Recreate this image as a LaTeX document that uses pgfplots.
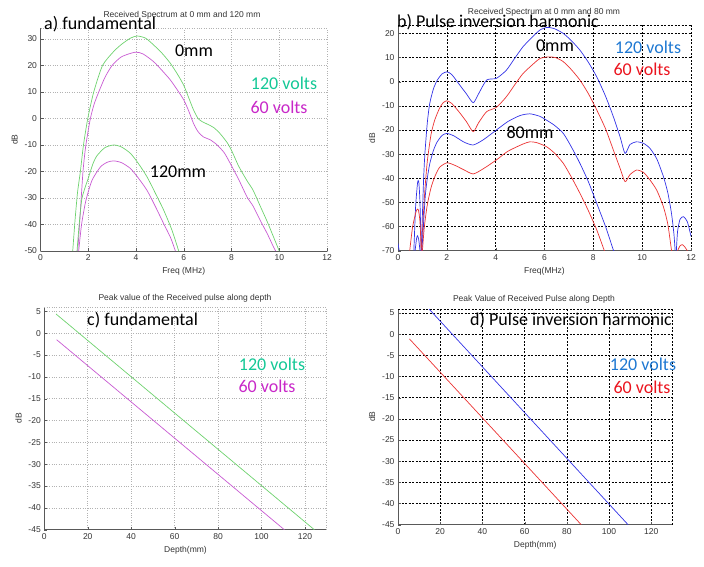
\documentclass[border=0pt]{standalone}
\usepackage{fontspec}
\setmainfont{Liberation Sans}
\newfontfamily\calfont{Carlito}
\usepackage{pgfplots}
\pgfplotsset{compat=1.18}

\definecolor{lgreen}{RGB}{110,210,110}
\definecolor{lmag}{RGB}{200,90,210}
\definecolor{pblue}{RGB}{50,50,230}
\definecolor{pred}{RGB}{235,50,50}
\definecolor{tgreen}{RGB}{20,200,150}
\definecolor{tmag}{RGB}{200,40,200}
\definecolor{tblue}{RGB}{30,120,210}
\definecolor{tred}{RGB}{235,20,30}

\pgfplotsset{
 mystyle/.style={
   scale only axis, anchor=south west,
   axis x line=bottom, axis y line=left,
   axis line style={-, gray!70!black, line width=0.6pt},
   tick align=inside, major tick length=3pt,
   tick style={gray!70!black},
   ticklabel style={font=\fontsize{8.5}{9}\selectfont, text=black!80},
   /pgf/number format/assume math mode=true,
   label style={font=\fontsize{8.5}{9}\selectfont, text=black!80},
   xmajorgrids, ymajorgrids,
   every axis plot/.append style={line width=0.7pt, no marks},
   extra tick style={grid=major, major tick length=0pt},
 },
 dotgrid/.style={grid style={gray!60, dotted, line width=0.5pt}},
 dashgrid/.style={grid style={black, dash pattern=on 2pt off 1.5pt, line width=0.5pt}},
}

\begin{document}
\begin{tikzpicture}[x=1pt,y=1pt]
\path[use as bounding box] (0,0) rectangle (704,566);

% ---------- a ----------
\begin{axis}[mystyle, dotgrid, at={(40.5pt,315pt)}, width=286.5pt, height=222.7pt,
  xmin=0, xmax=12, ymin=-50, ymax=34, xtick={0,2,...,12}, ytick={-50,-40,...,30},
  extra y ticks={34}, extra y tick labels={},
  xlabel={Freq (MHz)}, ylabel={dB}]
\addplot[lgreen, smooth, tension=0.4] coordinates {(1.35,-50)(1.45,-38)(1.55,-28)(1.67,-20)(1.8,-10)(1.98,0)(2.23,10)(2.6,20)(3.07,25.3)(3.4,28)(3.77,30.3)(4.05,31.1)(4.4,30.3)(4.74,27.7)(5.1,24.5)(5.44,20.8)(5.75,16.5)(6.0,12.5)(6.2,8)(6.41,3.2)(6.6,0)(6.77,-1.2)(7.0,-2.2)(7.25,-3.4)(7.5,-5.5)(7.81,-9)(8.0,-12)(8.3,-18)(8.65,-23.5)(8.9,-27)(9.2,-33)(9.5,-39)(9.76,-44.7)(10.0,-50)};
\addplot[lmag, smooth, tension=0.4] coordinates {(1.56,-50)(1.65,-38)(1.78,-20)(1.9,-10)(2.09,0)(2.25,5.5)(2.44,10)(2.7,15.5)(3.0,20)(3.4,23.3)(3.97,25)(4.3,24.3)(4.74,21.4)(5.1,18)(5.44,14.5)(5.75,10.5)(6.0,7)(6.2,3)(6.41,-1.9)(6.6,-5)(6.83,-7)(7.1,-8)(7.4,-10)(7.7,-13)(7.95,-17)(8.3,-23)(8.65,-29.6)(8.9,-33)(9.2,-38.4)(9.5,-43.5)(9.76,-48.5)(9.85,-50)};
\addplot[lgreen, smooth, tension=0.4] coordinates {(1.53,-50)(1.62,-40)(1.74,-30)(2.02,-22)(2.2,-17)(2.37,-14)(2.7,-11)(3.07,-10)(3.4,-10.8)(3.77,-13.2)(4.1,-17)(4.46,-22)(4.8,-28)(5.16,-34.6)(5.5,-42)(5.79,-50)};
\addplot[lmag, smooth, tension=0.4] coordinates {(1.6,-50)(1.72,-40)(1.9,-31)(2.16,-23.3)(2.51,-18.3)(2.8,-16.5)(3.07,-16)(3.4,-16.7)(3.77,-18.9)(4.1,-22.5)(4.46,-27.1)(4.8,-33)(5.16,-39.7)(5.45,-45)(5.65,-50)};
\end{axis}

% ---------- b ----------
\begin{axis}[mystyle, dashgrid, at={(398pt,315.3pt)}, width=293pt, height=225.7pt,
  xmin=0, xmax=12, ymin=-70, ymax=23.5, xtick={0,2,...,12}, ytick={-70,-60,...,20},
  extra y ticks={23.5}, extra y tick labels={},
  xlabel={Freq(MHz)}, ylabel={dB}]
\addplot[pblue, smooth, tension=0.4] coordinates {(0.95,-70)(1.0,-55)(1.05,-40)(1.1,-30)(1.2,-17)(1.3,-9)(1.45,-3)(1.6,0.5)(1.8,3.2)(2.0,4.1)(2.2,3)(2.5,-1)(2.8,-5)(3.08,-8.7)(3.3,-5)(3.63,0.7)(4.03,1.4)(4.44,4.8)(4.8,10)(5.12,14.5)(5.5,18.5)(5.81,21.4)(6.1,22.5)(6.4,22)(6.77,20)(7.1,17)(7.45,13.1)(7.8,8)(8.14,2)(8.5,-6)(8.82,-14.5)(9.1,-23)(9.3,-29.7)(9.5,-26)(9.77,-24.9)(10.05,-25.5)(10.32,-27.6)(10.6,-32)(10.87,-39.3)(11.05,-46)(11.2,-54.5)(11.3,-63)(11.35,-70)};
\addplot[pblue, smooth, tension=0.4] coordinates {(11.4,-70)(11.45,-62)(11.55,-57)(11.69,-55.9)(11.85,-58)(12,-64)};
\addplot[pblue, smooth, tension=0.4] coordinates {(0.65,-70)(0.72,-52)(0.8,-42)(0.85,-41.4)(0.9,-50)(0.95,-70)};
\addplot[pblue] coordinates {(0,-67)(0.05,-70)};
\addplot[pred, smooth, tension=0.4] coordinates {(0.95,-70)(1.0,-62)(1.1,-45)(1.2,-33)(1.35,-22)(1.5,-16)(1.7,-11)(1.85,-8.7)(2.0,-7.9)(2.2,-9)(2.5,-12.5)(2.8,-16.5)(3.08,-20.7)(3.3,-17)(3.63,-12.4)(4.03,-10.6)(4.44,-6.2)(4.8,-1)(5.12,3.4)(5.5,7)(5.81,9.6)(6.15,10.3)(6.45,10)(6.77,8.3)(7.1,5)(7.45,0.7)(7.8,-5)(8.14,-11.7)(8.5,-19.5)(8.82,-28.3)(9.1,-36)(9.3,-41.4)(9.5,-38.5)(9.77,-36.6)(10.05,-37.5)(10.32,-40.7)(10.6,-45)(10.87,-51.8)(11.05,-59)(11.2,-69.7)(11.22,-70)};
\addplot[pred, smooth, tension=0.4] coordinates {(11.45,-70)(11.55,-68)(11.65,-67.5)(11.75,-68.5)(11.85,-70)};
\addplot[pred, smooth, tension=0.4] coordinates {(0.48,-70)(0.6,-60)(0.75,-53.5)(0.83,-53)(0.9,-58)(0.95,-70)};
\addplot[pblue, smooth, tension=0.4] coordinates {(0.98,-70)(1.05,-58)(1.12,-47)(1.2,-40)(1.3,-34)(1.45,-28.5)(1.6,-25)(1.8,-22.3)(2.0,-21.4)(2.3,-22.5)(2.7,-25)(3.08,-26.2)(3.5,-24)(4.03,-20)(4.5,-16.5)(5.0,-14)(5.4,-13.3)(5.8,-14.3)(6.08,-15.9)(6.4,-18)(6.77,-21.4)(7.1,-27)(7.45,-33.8)(7.8,-41.5)(8.14,-50.4)(8.5,-60)(8.82,-69.7)(8.85,-70)};
\addplot[pblue, smooth, tension=0.4] coordinates {(0.7,-70)(0.76,-65)(0.8,-63.8)(0.85,-65.5)(0.9,-70)};
\addplot[pred, smooth, tension=0.4] coordinates {(1.0,-70)(1.08,-60)(1.2,-51)(1.35,-44)(1.5,-39.5)(1.7,-35.5)(2.0,-33.6)(2.3,-34.5)(2.7,-36.5)(3.08,-38.2)(3.5,-36)(4.03,-32.4)(4.5,-28.8)(5.12,-25.8)(5.4,-24.9)(5.67,-25.2)(6.08,-26.9)(6.4,-29.5)(6.77,-33.8)(7.1,-39.5)(7.45,-46.2)(7.8,-53.5)(8.14,-61.4)(8.44,-69.7)(8.45,-70)};
\end{axis}

% ---------- c ----------
\begin{axis}[mystyle, dotgrid, at={(44.3pt,36.3pt)}, width=282.4pt, height=222.7pt,
  xmin=0, xmax=130, ymin=-45, ymax=6, xtick={0,20,...,120}, ytick={-45,-40,...,5},
  extra y ticks={6}, extra y tick labels={}, extra x ticks={130}, extra x tick labels={},
  xlabel={Depth(mm)}, ylabel={dB}]
\addplot[lgreen] coordinates {(5.4,4.4)(124.3,-45)};
\addplot[lmag] coordinates {(5.7,-1.5)(110.5,-45)};
\end{axis}

% ---------- d ----------
\begin{axis}[mystyle, dashgrid, at={(398pt,41.3pt)}, width=274.4pt, height=215.9pt,
  xmin=0, xmax=130, ymin=-45, ymax=6, xtick={0,20,...,120}, ytick={-45,-40,...,5},
  extra y ticks={6}, extra y tick labels={}, extra x ticks={130}, extra x tick labels={},
  xlabel={Depth(mm)}, ylabel={dB}]
\addplot[pblue] coordinates {(14.8,5.9)(109,-45)};
\addplot[pred] coordinates {(5.4,-1.1)(86.8,-45)};
\end{axis}

% ---------- titles ----------
\begin{scope}[every node/.style={font=\fontsize{8.5}{9}\selectfont, text=black!80}]
\node at (182,551) {Received Spectrum at 0 mm and 120 mm};
\node at (544,554) {Received Spectrum at 0 mm and 80 mm};
\node at (185,268) {Peak value of the Received pulse along depth};
\node at (534,267) {Peak Value of Received Pulse along Depth};
\end{scope}

% ---------- annotations ----------
\begin{scope}[every node/.style={font=\calfont\fontsize{18}{20}\selectfont, inner sep=0pt}]
\node[anchor=west] at (44,542) {a) fundamental};
\node at (194,515) {0mm};
\node[text=tgreen] at (284,483) {120 volts};
\node[text=tmag] at (279,459) {60 volts};
\node at (178,394) {120mm};
\node[anchor=west] at (397,544) {b) Pulse inversion harmonic};
\node at (555,520) {0mm};
\node[text=tblue] at (648,519) {120 volts};
\node[text=tred] at (642,497) {60 volts};
\node at (530,434) {80mm};
\node[anchor=west] at (87,246) {c) fundamental};
\node[text=tgreen] at (272,202) {120 volts};
\node[text=tmag] at (267,180) {60 volts};
\node[anchor=west] at (470,246) {d) Pulse inversion harmonic};
\node[text=tblue] at (643,202) {120 volts};
\node[text=tred] at (642,179) {60 volts};
\end{scope}
\end{tikzpicture}
\end{document}
